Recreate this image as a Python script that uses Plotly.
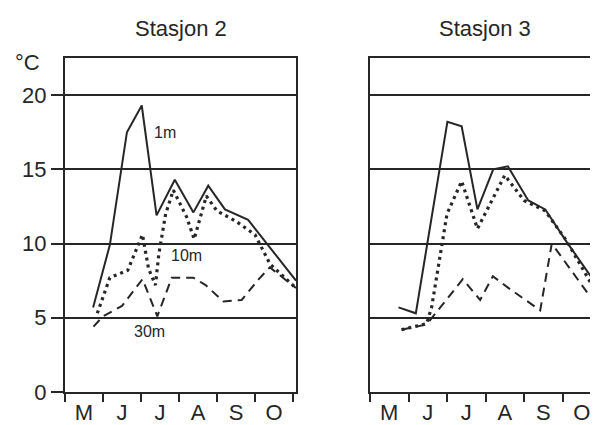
import plotly.graph_objects as go
from plotly.subplots import make_subplots

months = ["M", "J", "J", "A", "S", "O"]
month_pos = [0.5, 1.5, 2.5, 3.5, 4.5, 5.5]
yticks = [0, 5, 10, 15, 20]

# Stasjon 2 (x in months since 1 May)
s2_1m_x = [0.74, 1.18, 1.63, 2.02, 2.41, 2.89, 3.38, 3.77, 4.21, 4.82, 6.08]
s2_1m_y = [5.7, 9.9, 17.5, 19.3, 11.9, 14.3, 12.1, 13.9, 12.3, 11.6, 7.5]
s2_10m_x = [0.85, 1.18, 1.65, 2.04, 2.2, 2.38, 2.47, 2.65, 2.85, 3.2, 3.4, 3.72, 4.0, 4.5, 5.0, 5.4, 6.08]
s2_10m_y = [5.3, 7.7, 8.2, 10.6, 8.3, 7.2, 9.3, 12.0, 13.6, 11.8, 10.3, 13.2, 12.2, 11.5, 10.6, 8.6, 7.0]
s2_30m_x = [0.75, 1.0, 1.5, 2.04, 2.43, 2.81, 3.38, 3.7, 4.17, 4.65, 5.1, 5.39, 6.08]
s2_30m_y = [4.4, 5.1, 5.8, 7.6, 5.1, 7.7, 7.7, 7.2, 6.1, 6.2, 7.6, 8.4, 7.0]

# Stasjon 3
s3_1m_x = [0.74, 1.19, 2.01, 2.38, 2.79, 3.2, 3.58, 4.11, 4.55, 5.11, 5.92]
s3_1m_y = [5.7, 5.3, 18.2, 17.9, 12.3, 15.0, 15.2, 12.9, 12.3, 10.1, 7.1]
s3_10m_x = [0.82, 1.47, 1.6, 2.0, 2.38, 2.79, 3.5, 4.0, 4.55, 5.1, 5.92]
s3_10m_y = [4.2, 4.6, 5.7, 12.0, 14.2, 11.0, 14.6, 12.9, 12.2, 10.2, 6.5]
s3_30m_x = [0.82, 1.47, 2.41, 2.86, 3.19, 3.6, 4.42, 4.72, 5.92]
s3_30m_y = [4.2, 4.55, 7.6, 6.2, 7.8, 7.0, 5.5, 10.0, 5.7]

ink = "#262626"
fig = make_subplots(rows=1, cols=2)

def add(x, y, col, style):
    if style == "solid":
        line = dict(color=ink, width=2)
    elif style == "dot":
        line = dict(color=ink, width=3.2, dash="3px,4px")
    else:
        line = dict(color=ink, width=2, dash="9px,6px")
    fig.add_trace(go.Scatter(x=x, y=y, mode="lines", line=line, showlegend=False,
                             hoverinfo="skip"), row=1, col=col)

add(s2_1m_x, s2_1m_y, 1, "solid")
add(s2_10m_x, s2_10m_y, 1, "dot")
add(s2_30m_x, s2_30m_y, 1, "dash")
add(s3_1m_x, s3_1m_y, 2, "solid")
add(s3_10m_x, s3_10m_y, 2, "dot")
add(s3_30m_x, s3_30m_y, 2, "dash")

font = dict(family="Liberation Sans, Arial, sans-serif", size=22, color=ink)

xcommon = dict(tickvals=month_pos, ticktext=months, ticks="", showgrid=False,
               zeroline=False, showline=True, linecolor=ink, linewidth=2,
               mirror=True, tickfont=font,
               minor=dict(tick0=0, dtick=1, ticks="outside", ticklen=8,
                          tickwidth=1.5, tickcolor=ink, showgrid=False))
fig.update_xaxes(**xcommon)
fig.update_xaxes(range=[0, 6.08], domain=[0, 0.4334], row=1, col=1)
fig.update_xaxes(range=[0, 5.92], domain=[0.5722, 1.0], row=1, col=2)

fig.update_yaxes(range=[0, 22.5], tickvals=yticks, showgrid=True, gridcolor=ink,
                 gridwidth=1.6, zeroline=False, showline=True, linecolor=ink,
                 linewidth=2, tickfont=font)
fig.update_yaxes(mirror=True, ticks="outside", ticklen=12, tickwidth=1.5,
                 tickcolor=ink, row=1, col=1)
fig.update_yaxes(mirror=False, ticks="", showticklabels=False, row=1, col=2)

fig.add_annotation(text="Stasjon 2", x=0.2167, y=1.0, xref="paper", yref="paper",
                   yshift=30, showarrow=False, font=font, xanchor="center", yanchor="middle")
fig.add_annotation(text="Stasjon 3", x=0.788, y=1.0, xref="paper", yref="paper",
                   yshift=30, showarrow=False, font=font, xanchor="center", yanchor="middle")
fig.add_annotation(text="°C", x=-0.098, y=1.0, xref="paper", yref="paper",
                   showarrow=False, font=font, xanchor="left", yanchor="middle", yshift=-4)
small = dict(family="Liberation Sans, Arial, sans-serif", size=16, color=ink)
fig.add_annotation(text="1m", x=2.3, y=17.5, xref="x", yref="y", showarrow=False,
                   font=small, xanchor="left")
fig.add_annotation(text="10m", x=2.74, y=9.2, xref="x", yref="y", showarrow=False,
                   font=small, xanchor="left")
fig.add_annotation(text="30m", x=1.77, y=4.1, xref="x", yref="y", showarrow=False,
                   font=small, xanchor="left")

# page body has an 8px margin, so the figure is sized to end at the window edge
fig.update_layout(width=590, height=417, margin=dict(l=57, r=0, t=50, b=30),
                  plot_bgcolor="white", paper_bgcolor="white")
fig.write_html("out.html")
